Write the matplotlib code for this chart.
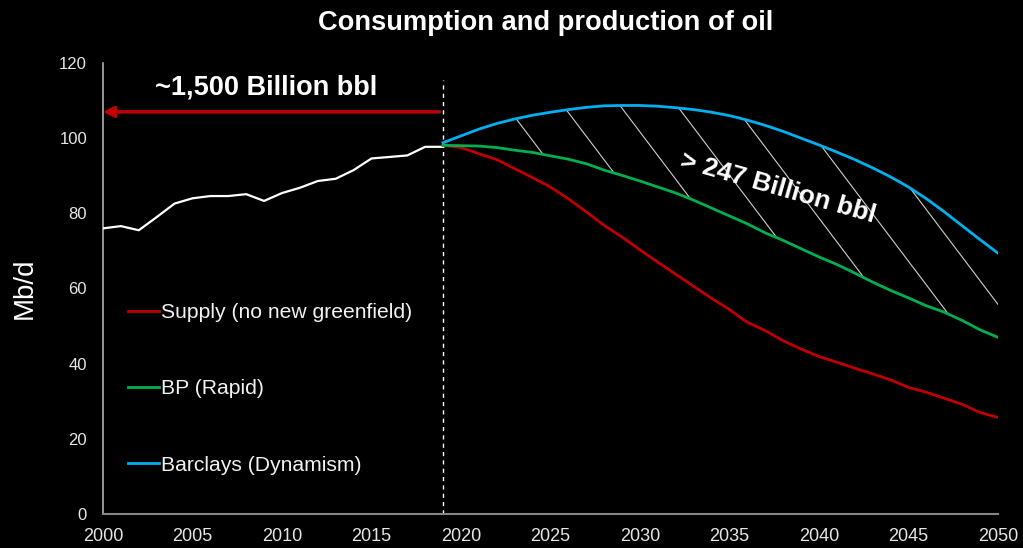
import numpy as np
import matplotlib
matplotlib.use("Agg")
import matplotlib.pyplot as plt

plt.rcParams['font.family'] = ['Liberation Sans', 'DejaVu Sans']

# historical consumption, Mb/d
years_hist = list(range(2000, 2020))
consumption = [76.0, 76.6, 75.5, 79.0, 82.6, 84.0, 84.6, 84.6, 85.1, 83.3,
               85.4, 86.8, 88.6, 89.2, 91.5, 94.6, 95.0, 95.4, 97.7, 97.7]

# projections, Mb/d
years_proj = list(range(2019, 2051))
supply = [98.1, 97.5, 95.9, 94.3, 91.9, 89.5, 87.0, 83.9, 80.4, 76.8, 73.7,
          70.3, 67.0, 63.8, 60.6, 57.4, 54.4, 51.0, 48.8, 46.1, 43.9, 41.9,
          40.4, 38.8, 37.3, 35.7, 33.7, 32.4, 30.8, 29.2, 27.0, 25.7]
bp_rapid = [98.1, 98.0, 97.9, 97.5, 96.8, 96.2, 95.3, 94.4, 93.2, 91.5, 90.1,
            88.6, 87.0, 85.4, 83.5, 81.4, 79.3, 77.2, 74.8, 72.8, 70.6, 68.4,
            66.4, 64.1, 61.7, 59.5, 57.5, 55.4, 53.7, 51.5, 49.0, 47.0]
barclays = [98.8, 100.6, 102.4, 103.9, 105.1, 106.1, 106.9, 107.6, 108.2,
            108.6, 108.7, 108.7, 108.5, 108.1, 107.6, 106.9, 106.0, 104.8,
            103.4, 101.8, 100.0, 98.2, 96.3, 94.3, 92.1, 89.7, 87.0, 83.9,
            80.4, 76.7, 73.0, 69.4]

labels = ["Supply (no new greenfield)", "BP (Rapid)", "Barclays (Dynamism)"]
colors = ["#c00000", "#00b050", "#00b0f0"]

x_ticks = list(range(2000, 2051, 5))
y_ticks = list(range(0, 121, 20))

split_year = 2019
arrow_level = 107
hist_label = "~1,500 Billion bbl"
gap_label = "> 247 Billion bbl"

fig = plt.figure(figsize=(10.23, 5.48), dpi=100, facecolor='black')
ax = fig.add_axes([103 / 1023, 1 - 514 / 548, 895 / 1023, 451 / 548])
ax.set_facecolor('black')

ax.plot(years_hist, consumption, color='white', lw=1.6, zorder=4)
ax.plot(years_proj, supply, color=colors[0], lw=2, label=labels[0], zorder=4)
ax.plot(years_proj, bp_rapid, color=colors[1], lw=2, label=labels[1], zorder=4)
ax.plot(years_proj, barclays, color=colors[2], lw=2, label=labels[2], zorder=4)

# sparse diagonal hatching between the BP and Barclays curves
gap = ax.fill_between(years_proj, bp_rapid, barclays, facecolor='none',
                      edgecolor='none')
clip = gap.get_paths()[0]
hatch_start, hatch_step, hatch_slope = 2023.9, 3.18, 6.3
for k in range(7):
    x0 = hatch_start + k * hatch_step
    xs = np.array([x0 - 12, x0 + 12])
    ln, = ax.plot(xs, 100 - hatch_slope * (xs - x0), color='#cfcfcf', lw=0.8,
                  zorder=3)
    ln.set_clip_path(clip, transform=ax.transData)

ax.vlines(split_year, 0, 115.5, colors='white', linestyles=(0, (3, 3)), lw=1)

ax.annotate('', xy=(2000, arrow_level), xytext=(2018.8, arrow_level),
            arrowprops=dict(arrowstyle='-|>', color='#c00000', lw=2.5,
                            mutation_scale=16, shrinkA=0, shrinkB=0))
ax.text(2009.1, 113.4, hist_label, color='white', fontsize=19.5,
        fontweight='bold', ha='center', va='center')
ax.text(2037.7, 86.6, gap_label, color='white', fontsize=19, fontweight='bold',
        ha='center', va='center', rotation=-16, rotation_mode='anchor')

ax.set_xlim(2000, 2050)
ax.set_ylim(0, 120)
ax.set_xticks(x_ticks)
ax.set_yticks(y_ticks)
ax.tick_params(axis='x', length=0, pad=10, labelsize=13, labelcolor='#e6e6e6')
ax.tick_params(axis='y', length=0, pad=11.5, labelsize=12, labelcolor='#e6e6e6')
for side in ['top', 'right']:
    ax.spines[side].set_visible(False)
ax.spines['left'].set_color('#b0b0b0')
ax.spines['left'].set_linewidth(1.2)
ax.spines['bottom'].set_color('#858585')
ax.spines['bottom'].set_linewidth(1.5)

leg = ax.legend(loc='upper left', bbox_to_anchor=(0.028, 0.468), frameon=False,
                fontsize=15.2, handlelength=1.45, handletextpad=0.1,
                labelspacing=2.72, borderpad=0, borderaxespad=0,
                labelcolor='#f2f2f2')

fig.text(0.533, 1 - 23 / 548, "Consumption and production of oil",
         color='white', fontsize=19.6, fontweight='bold', ha='center',
         va='center')
fig.text(25 / 1023, 1 - 288 / 548, "Mb/d", color='white', fontsize=20,
         rotation=90, ha='center', va='center')

fig.savefig('out.png', dpi=100, facecolor='black')
